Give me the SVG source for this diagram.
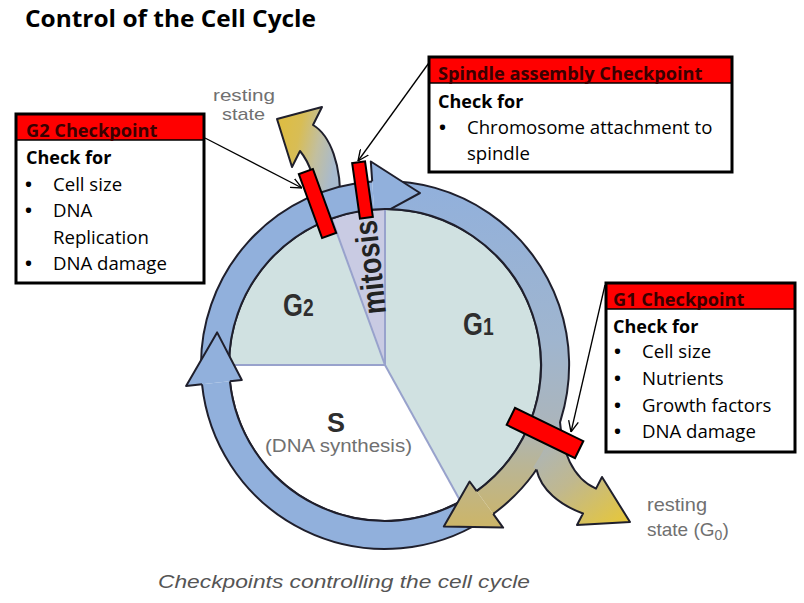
<svg xmlns="http://www.w3.org/2000/svg" width="804" height="603" viewBox="0 0 804 603">
<defs>
<style>
.box{font-family:"Open Sans","Liberation Sans",sans-serif;font-size:18.6px;fill:#000}
.hdr{font-weight:bold;fill:#3a0000;font-size:18.2px}
.b{font-weight:bold;font-size:18px}
.bul{font-weight:bold}
.frame{fill:none;stroke:#000;stroke-width:3}
.hbar{fill:#ff0000}
.hline{stroke:#000;stroke-width:1.5}
.edge{fill:none;stroke:#1f1f2c;stroke-width:2;stroke-linejoin:round}
.blue{fill:#91b0dc}
.bar{fill:#ff0000;stroke:#000;stroke-width:2}
.conn{fill:none;stroke:#000;stroke-width:1.3}
.lbl{font-family:"Liberation Sans",sans-serif;fill:#707070}
.phase{font-family:"Liberation Sans",sans-serif;font-weight:bold;fill:#2e2e2e}
.div{stroke:#98a2cc;stroke-width:2}
</style>
<linearGradient id="gRight" gradientUnits="userSpaceOnUse" x1="0" y1="180" x2="0" y2="530">
<stop offset="0" stop-color="#91b0dc"/>
<stop offset="0.45" stop-color="#9fb5cf"/>
<stop offset="0.68" stop-color="#aab5bd"/>
<stop offset="0.82" stop-color="#bab594"/>
<stop offset="1" stop-color="#cdb566"/>
</linearGradient>
<linearGradient id="gBranch" gradientUnits="userSpaceOnUse" x1="552" y1="428" x2="625" y2="525">
<stop offset="0" stop-color="#aab5bd"/>
<stop offset="0.45" stop-color="#c0b88f"/>
<stop offset="1" stop-color="#e7c738"/>
</linearGradient>
<linearGradient id="gTop" gradientUnits="userSpaceOnUse" x1="338" y1="150" x2="280" y2="138">
<stop offset="0" stop-color="#a8bace"/>
<stop offset="0.35" stop-color="#c2bf9f"/>
<stop offset="0.7" stop-color="#d8bd55"/>
<stop offset="1" stop-color="#ddbd45"/>
</linearGradient>
<marker id="ah" viewBox="0 0 10 10" refX="10" refY="5" markerWidth="11" markerHeight="11" markerUnits="userSpaceOnUse" orient="auto">
<path d="M0,0.5 L10,5 L0,9.5" fill="none" stroke="#000" stroke-width="1.2"/>
</marker>
</defs>

<rect width="804" height="603" fill="#ffffff"/>

<g id="title">
<text x="25" y="27" font-family="Open Sans,Liberation Sans,sans-serif" font-weight="bold" font-size="23" textLength="291" lengthAdjust="spacingAndGlyphs">Control of the Cell Cycle</text>
</g>

<g id="pie">
<path d="M385,365 L385,209 A156,156 0 0 1 460.6,501.4 Z" fill="#d0e1e1"/>
<path d="M385,365 L460.6,501.4 A156,156 0 0 1 229,365 Z" fill="#ffffff"/>
<path d="M385,365 L229,365 A156,156 0 0 1 331.6,218.4 Z" fill="#d0e1e1"/>
<path d="M385,365 L331.6,218.4 A156,156 0 0 1 385,209 Z" fill="#c9cbe3"/>
<line class="div" x1="385" y1="365" x2="460.6" y2="501.4"/>
<line class="div" x1="385" y1="365" x2="229" y2="365"/>
<line class="div" x1="385" y1="365" x2="331.6" y2="218.4"/>
<line class="div" x1="385" y1="365" x2="385" y2="209"/>
<circle cx="385" cy="365" r="156" fill="none" stroke="#1f1f2c" stroke-width="2"/>
</g>

<g id="phase-labels">
<text class="phase" font-size="32" transform="translate(283,316) scale(0.8,1)">G<tspan font-size="24">2</tspan></text>
<text class="phase" font-size="32" transform="translate(463,335) scale(0.8,1)">G<tspan font-size="24">1</tspan></text>
<text class="phase" x="327" y="432" font-size="28" textLength="18" lengthAdjust="spacingAndGlyphs">S</text>
<text class="lbl" x="265" y="452" font-size="18" textLength="147" lengthAdjust="spacingAndGlyphs">(DNA synthesis)</text>
<text class="phase" x="0" y="0" font-size="32" textLength="94" lengthAdjust="spacingAndGlyphs" transform="translate(386,313) rotate(-96)" style="fill:#222">mitosis</text>
</g>

<g id="resting-arrow-top">
<path d="M318,206 C316,182 310,163 300,151 L292,167 L277,119 L322,107 L313,125 C330,135 342,165 340,206 Z" fill="url(#gTop)" stroke="#1f1f2c" stroke-width="2" stroke-linejoin="round"/>
</g>

<g id="cycle-ring">
<path d="M378.6,181.1 A184,184 0 0 1 493.2,513.9 L476.7,491.2 A156,156 0 0 0 379.6,209.1 Z" fill="url(#gRight)"/>
<path class="blue" d="M201.1,371.4 A184,184 0 0 1 372.2,181.4 L374.1,209.4 A156,156 0 0 0 229.1,370.4 Z"/>
<path class="blue" d="M482.5,521 A184,184 0 0 1 202,384.2 L229.9,381.3 A156,156 0 0 0 467.7,497.3 Z"/>
<path class="edge" d="M378.6,181.1 A184,184 0 0 1 493.2,513.9 M476.7,491.2 A156,156 0 0 0 379.6,209.1"/>
<path class="edge" d="M201.1,371.4 A184,184 0 0 1 372.2,181.4 M374.1,209.4 A156,156 0 0 0 229.1,370.4"/>
<path class="edge" d="M482.5,521 A184,184 0 0 1 202,384.2 M229.9,381.3 A156,156 0 0 0 467.7,497.3"/>
</g>

<g id="resting-arrow-g0">
<path d="M560,421.9 C562,450 572,478 596,488.6 L602,477 L630,522 L577,525 L583,513.5 C560,505 541,490 536.5,469.5 L533.2,467.2 A180,180 0 0 0 556.2,420.6 Z" fill="url(#gBranch)"/>
<path class="edge" d="M560,421.9 C562,450 572,478 596,488.6 L602,477 L630,522 L577,525 L583,513.5 C560,505 541,490 536.5,469.5"/>
</g>

<g id="arrowheads">
<path class="blue" d="M372.2,181.4 L370.8,161.5 L420,193 L390.4,209.1 A156,156 0 0 0 374.1,209.4" stroke="#1f1f2c" stroke-width="2" stroke-linejoin="round"/>
<path class="blue" d="M202,384.2 L186.1,385.9 L217.1,332.4 L241.8,380 L229.9,381.3" stroke="#1f1f2c" stroke-width="2" stroke-linejoin="round"/>
<path d="M493.2,513.9 L503.1,527.6 L443.8,526.6 L469.6,481.5 L476.7,491.2" fill="url(#gRight)" stroke="#1f1f2c" stroke-width="2" stroke-linejoin="round"/>
</g>

<g id="checkpoint-bars">
<rect class="bar" x="-7.5" y="-34" width="15" height="68" transform="translate(317.5,203.5) rotate(-20)"/>
<rect class="bar" x="-6.5" y="-28" width="13" height="56" transform="translate(362.5,190) rotate(-8)"/>
<rect class="bar" x="-38" y="-9.5" width="76" height="19" transform="translate(545,433) rotate(26)"/>
</g>

<g id="connectors">
<line class="conn" x1="205" y1="138" x2="302" y2="188" marker-end="url(#ah)"/>
<line class="conn" x1="431" y1="60" x2="358" y2="161" marker-end="url(#ah)"/>
<line class="conn" x1="605" y1="285" x2="571" y2="432" marker-end="url(#ah)"/>
</g>

<g id="g2-checkpoint" class="box">
<rect x="17" y="115" width="187" height="25" class="hbar"/>
<line class="hline" x1="17" y1="140" x2="204" y2="140"/>
<rect x="16" y="114" width="188" height="169" class="frame"/>
<text class="hdr" x="26" y="137">G2 Checkpoint</text>
<text class="b" x="26" y="164">Check for</text>
<text class="bul" x="25" y="191">•</text><text x="53" y="191">Cell size</text>
<text class="bul" x="25" y="217">•</text><text x="53" y="217">DNA</text>
<text x="53" y="244">Replication</text>
<text class="bul" x="25" y="270">•</text><text x="53" y="270">DNA damage</text>
</g>

<g id="spindle-checkpoint" class="box">
<rect x="430" y="58" width="301" height="25" class="hbar"/>
<line class="hline" x1="430" y1="83" x2="731" y2="83"/>
<rect x="429" y="57" width="303" height="115" class="frame"/>
<text class="hdr" x="438" y="80">Spindle assembly Checkpoint</text>
<text class="b" x="438" y="108">Check for</text>
<text class="bul" x="439" y="134">•</text><text x="467" y="134">Chromosome attachment to</text>
<text x="467" y="160">spindle</text>
</g>

<g id="g1-checkpoint" class="box">
<rect x="607" y="284" width="187" height="25" class="hbar"/>
<line class="hline" x1="607" y1="309" x2="794" y2="309"/>
<rect x="606" y="283" width="189" height="169" class="frame"/>
<text class="hdr" x="613" y="306">G1 Checkpoint</text>
<text class="b" x="613" y="333">Check for</text>
<text class="bul" x="614" y="358">•</text><text x="642" y="358">Cell size</text>
<text class="bul" x="614" y="385">•</text><text x="642" y="385">Nutrients</text>
<text class="bul" x="614" y="412">•</text><text x="642" y="412">Growth factors</text>
<text class="bul" x="614" y="438">•</text><text x="642" y="438">DNA damage</text>
</g>

<g id="labels">
<text class="lbl" x="244" y="101" font-size="17" text-anchor="middle" textLength="62" lengthAdjust="spacingAndGlyphs">resting</text>
<text class="lbl" x="243.5" y="120" font-size="17" text-anchor="middle" textLength="43" lengthAdjust="spacingAndGlyphs">state</text>
<text class="lbl" x="647" y="511" font-size="19" textLength="60" lengthAdjust="spacingAndGlyphs">resting</text>
<text class="lbl" x="647" y="536" font-size="19">state (G<tspan font-size="14" dy="4">0</tspan><tspan dy="-4">)</tspan></text>
<text class="lbl" x="158" y="588" font-size="19" font-style="italic" textLength="372" lengthAdjust="spacingAndGlyphs" style="fill:#555">Checkpoints controlling the cell cycle</text>
</g>
</svg>
